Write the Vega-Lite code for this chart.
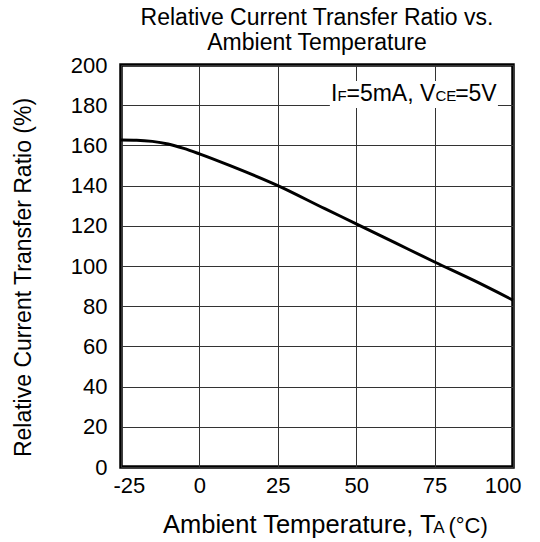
{
  "$schema": "https://vega.github.io/schema/vega-lite/v6.json",
  "width": 392,
  "height": 402,
  "autosize": {"type": "none"},
  "padding": {"left": 121, "top": 65, "right": 27, "bottom": 75},
  "background": "white",
  "config": {
    "font": "Liberation Sans",
    "view": {"stroke": "black", "strokeWidth": 3.5},
    "axis": {
      "domain": false,
      "ticks": false,
      "grid": true,
      "gridColor": "#333333",
      "gridWidth": 1,
      "labelFont": "Liberation Sans",
      "labelFontSize": 22,
      "labelColor": "black",
      "titleFont": "Liberation Sans",
      "titleFontSize": 23,
      "titleFontWeight": "normal",
      "titleColor": "black"
    }
  },
  "title": {
    "text": ["Relative Current Transfer Ratio vs.", "Ambient Temperature"],
    "font": "Liberation Sans",
    "fontSize": 23,
    "fontWeight": "normal",
    "color": "black",
    "lineHeight": 25,
    "anchor": "middle",
    "frame": "group",
    "offset": -1
  },
  "datasets": {
    "curve": [
      {"temp": -25, "ctr": 162.7},
      {"temp": -20, "ctr": 162.6},
      {"temp": -15, "ctr": 162.0},
      {"temp": -10, "ctr": 160.7},
      {"temp": -5, "ctr": 158.5},
      {"temp": 0, "ctr": 155.8},
      {"temp": 10, "ctr": 149.8},
      {"temp": 25, "ctr": 140.0},
      {"temp": 40, "ctr": 128.5},
      {"temp": 50, "ctr": 121.0},
      {"temp": 62.5, "ctr": 111.5},
      {"temp": 75, "ctr": 102.0},
      {"temp": 87.5, "ctr": 92.8},
      {"temp": 100, "ctr": 83.0}
    ],
    "box": [{"temp": 41.6, "temp2": 95.2, "ctr": 178.6, "ctr2": 192}],
    "condBig": [
      {"label": "I", "temp": 41.96, "ctr": 182.2},
      {"label": "=5mA, V", "temp": 46.9, "ctr": 182.2},
      {"label": "=5V", "temp": 81.55, "ctr": 182.2}
    ],
    "condSmall": [
      {"label": "F", "temp": 44.0, "ctr": 182.2},
      {"label": "CE", "temp": 75.26, "ctr": 182.2}
    ],
    "xtitleBig": [
      {"label": "Ambient Temperature, T", "temp": -11.6, "ctr": -32.8}
    ],
    "xtitleUnit": [
      {"label": "(°C)", "temp": 79.4, "ctr": -32.8}
    ],
    "xtitleSmall": [
      {"label": "A", "temp": 74.6, "ctr": -32.8}
    ]
  },
  "encoding": {
    "x": {
      "field": "temp", "type": "quantitative",
      "scale": {"domain": [-25, 100], "nice": false, "zero": false},
      "axis": {"values": [-25, 0, 25, 50, 75, 100], "title": null, "labelPadding": 8, "labelExpr": "toString(datum.value)", "labelFlush": true, "labelFlushOffset": 8}
    },
    "y": {
      "field": "ctr", "type": "quantitative",
      "scale": {"domain": [0, 200], "nice": false},
      "axis": {
        "values": [0, 20, 40, 60, 80, 100, 120, 140, 160, 180, 200],
        "title": "Relative Current Transfer Ratio (%)",
        "titleX": -98,
        "titleY": 212,
        "titleBaseline": "middle",
        "titleAlign": "center",
        "titleAngle": -90,
        "labelPadding": 14
      }
    }
  },
  "layer": [
    {
      "data": {"name": "curve"},
      "mark": {"type": "line", "color": "black", "strokeWidth": 3, "interpolate": "monotone"}
    },
    {
      "data": {"name": "box"},
      "mark": {"type": "rect", "color": "white"},
      "encoding": {
        "x2": {"field": "temp2"},
        "y2": {"field": "ctr2"}
      }
    },
    {
      "data": {"name": "condBig"},
      "mark": {"type": "text", "align": "left", "baseline": "alphabetic", "fontSize": 23, "color": "black", "font": "Liberation Sans"},
      "encoding": {"text": {"field": "label"}}
    },
    {
      "data": {"name": "condSmall"},
      "mark": {"type": "text", "align": "left", "baseline": "alphabetic", "fontSize": 15, "color": "black", "font": "Liberation Sans"},
      "encoding": {"text": {"field": "label"}}
    },
    {
      "data": {"name": "xtitleBig"},
      "mark": {"type": "text", "align": "left", "baseline": "alphabetic", "fontSize": 25.5, "color": "black", "font": "Liberation Sans", "clip": false},
      "encoding": {"text": {"field": "label"}}
    },
    {
      "data": {"name": "xtitleUnit"},
      "mark": {"type": "text", "align": "left", "baseline": "alphabetic", "fontSize": 22, "color": "black", "font": "Liberation Sans", "clip": false},
      "encoding": {"text": {"field": "label"}}
    },
    {
      "data": {"name": "xtitleSmall"},
      "mark": {"type": "text", "align": "left", "baseline": "alphabetic", "fontSize": 17, "color": "black", "font": "Liberation Sans", "clip": false},
      "encoding": {"text": {"field": "label"}}
    }
  ]
}
